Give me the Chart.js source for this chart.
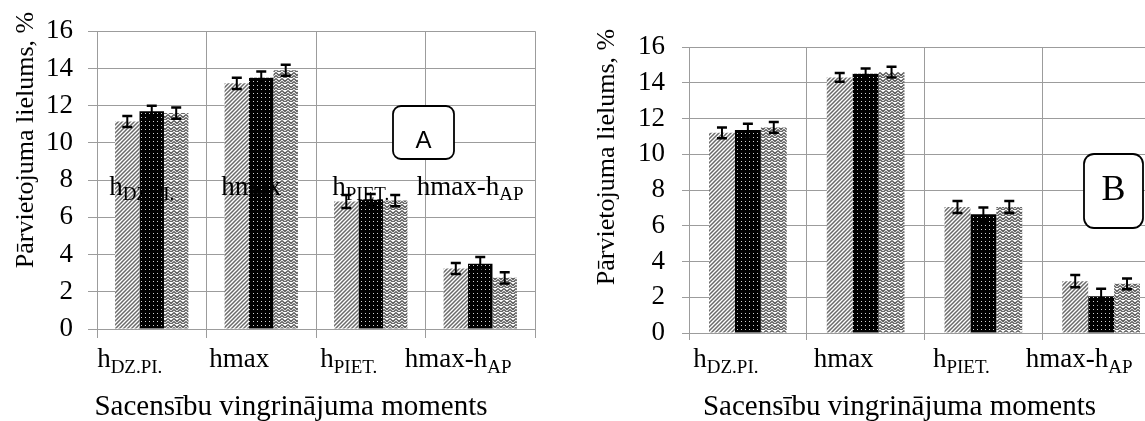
<!DOCTYPE html>
<html>
<head>
<meta charset="utf-8">
<script src="https://cdn.jsdelivr.net/npm/chart.js@4.4.1/dist/chart.umd.min.js"></script>
<style>
  html, body { margin: 0; padding: 0; background: #fff; overflow: hidden; width: 1145px; height: 421px; }
  #chartA { position: absolute; left: 0; top: 0; }
  #chartB { position: absolute; left: 580px; top: 0; }
</style>
</head>
<body>
<canvas id="chartA" width="550" height="421"></canvas>
<canvas id="chartB" width="600" height="421"></canvas>
<script>
// categories (main text + subscript part)
const categoryMain = ['h', 'hmax', 'h', 'hmax-h'];
const categorySub = ['DZ.PI.', '', 'PIET.', 'AP'];
const yTicks = [0, 2, 4, 6, 8, 10, 12, 14, 16];
const xTitle = 'Sacensību vingrinājuma moments';
const yTitle = 'Pārvietojuma lielums, %';

// panel A values
const aHatched = [11.15, 13.2, 6.85, 3.25];
const aDotted = [11.7, 13.5, 6.95, 3.5];
const aZigzag = [11.6, 13.9, 6.9, 2.75];
const aHatchedErr = [0.3, 0.3, 0.35, 0.3];
const aDottedErr = [0.3, 0.33, 0.3, 0.37];
const aZigzagErr = [0.3, 0.3, 0.3, 0.3];

// panel B values
const bHatched = [11.2, 14.3, 7.05, 2.9];
const bDotted = [11.35, 14.5, 6.65, 2.05];
const bZigzag = [11.5, 14.6, 7.05, 2.75];
const bHatchedErr = [0.3, 0.25, 0.33, 0.34];
const bDottedErr = [0.35, 0.3, 0.37, 0.43];
const bZigzagErr = [0.3, 0.3, 0.33, 0.3];

const gridColor = '#9c9c9c';
const serif = '"Liberation Serif", "Times New Roman", serif';

function makePattern(kind) {
  const c = document.createElement('canvas');
  const g = c.getContext('2d');
  if (kind === 'diag') {
    c.width = 4; c.height = 4;
    g.fillStyle = '#fff'; g.fillRect(0, 0, 4, 4);
    g.strokeStyle = '#6a6a6a'; g.lineWidth = 1.5;
    g.beginPath();
    g.moveTo(-1, 5); g.lineTo(5, -1);
    g.moveTo(-1, 1); g.lineTo(1, -1);
    g.moveTo(3, 5); g.lineTo(5, 3);
    g.stroke();
  } else if (kind === 'dots') {
    c.width = 4; c.height = 4;
    g.fillStyle = '#000'; g.fillRect(0, 0, 4, 4);
    g.fillStyle = '#d0d0d0'; g.fillRect(1, 1, 1, 1);
  } else {
    c.width = 6; c.height = 6;
    g.fillStyle = '#fff'; g.fillRect(0, 0, 6, 6);
    g.strokeStyle = '#5a5a5a'; g.lineWidth = 1.3;
    g.beginPath();
    g.moveTo(0, 0.5); g.lineTo(3, 3.5); g.lineTo(6, 0.5);
    g.moveTo(0, 3.5); g.lineTo(3, 6.5); g.lineTo(6, 3.5);
    g.stroke();
  }
  return g.createPattern(c, 'repeat');
}

const fills = [makePattern('diag'), makePattern('dots'), makePattern('zigzag')];

function drawSubLabel(ctx, cx, y, main, sub, mainSize, subSize, drop) {
  ctx.font = mainSize + 'px ' + serif;
  const w1 = ctx.measureText(main).width;
  ctx.font = subSize + 'px ' + serif;
  const w2 = sub ? ctx.measureText(sub).width : 0;
  const x = cx - (w1 + w2) / 2;
  ctx.textAlign = 'left';
  ctx.textBaseline = 'alphabetic';
  ctx.fillStyle = '#000';
  ctx.font = mainSize + 'px ' + serif;
  ctx.fillText(main, x, y);
  if (sub) {
    ctx.font = subSize + 'px ' + serif;
    ctx.fillText(sub, x + w1, y + drop);
  }
}

function roundBox(ctx, x, y, w, h, r) {
  ctx.beginPath();
  ctx.moveTo(x + r, y);
  ctx.arcTo(x + w, y, x + w, y + h, r);
  ctx.arcTo(x + w, y + h, x, y + h, r);
  ctx.arcTo(x, y + h, x, y, r);
  ctx.arcTo(x, y, x + w, y, r);
  ctx.closePath();
  ctx.fillStyle = '#fff';
  ctx.fill();
  ctx.lineWidth = 1.8;
  ctx.strokeStyle = '#000';
  ctx.stroke();
}

const panelPlugin = {
  id: 'panel',
  afterDatasetsDraw(chart, args, opts) {
    const ctx = chart.ctx;
    const x = chart.scales.x;
    const y = chart.scales.y;
    const area = chart.chartArea;
    ctx.save();

    // stray labels inside panel A
    if (opts.inner) {
      categoryMain.forEach((m, i) => {
        drawSubLabel(ctx, x.getPixelForValue(i) - 10, y.getPixelForValue(7.2), m, categorySub[i], 27, 19, 5);
      });
    }

    // error bars
    chart.data.datasets.forEach((ds, di) => {
      const meta = chart.getDatasetMeta(di);
      ctx.strokeStyle = '#000';
      meta.data.forEach((bar, i) => {
        const top = y.getPixelForValue(ds.data[i] + ds.err[i]);
        const bot = y.getPixelForValue(ds.data[i] - ds.err[i]);
        ctx.lineWidth = 2;
        ctx.beginPath();
        ctx.moveTo(bar.x, top); ctx.lineTo(bar.x, bot);
        ctx.stroke();
        ctx.lineWidth = 2.5;
        ctx.beginPath();
        ctx.moveTo(bar.x - 5, top); ctx.lineTo(bar.x + 5, top);
        ctx.moveTo(bar.x - 5, bot); ctx.lineTo(bar.x + 5, bot);
        ctx.stroke();
      });
    });

    // category labels with subscripts
    categoryMain.forEach((m, i) => {
      drawSubLabel(ctx, x.getPixelForValue(i) - 22, 367, m, categorySub[i], 27, 19, 6);
    });

    // axis titles
    ctx.fillStyle = '#000';
    ctx.textAlign = 'center';
    ctx.textBaseline = 'alphabetic';
    ctx.font = '29px ' + serif;
    ctx.fillText(xTitle, (area.left + area.right) / 2 - 25, 415);

    ctx.save();
    ctx.translate(opts.yTitleX, opts.yTitleY);
    ctx.rotate(-Math.PI / 2);
    ctx.textBaseline = 'middle';
    ctx.font = '26px ' + serif;
    ctx.fillText(yTitle, 0, 0);
    ctx.restore();

    // panel letter box
    const b = opts.box;
    roundBox(ctx, b[0], b[1], b[2], b[3], b[4]);
    ctx.fillStyle = '#000';
    ctx.textAlign = 'center';
    ctx.font = opts.letterFont;
    ctx.fillText(opts.letter, b[0] + b[2] / 2, opts.letterBase);
    ctx.restore();
  }
};

function makeChart(id, s1, s2, s3, e1, e2, e3, cfg) {
  return new Chart(document.getElementById(id), {
    type: 'bar',
    data: {
      labels: categoryMain.map((m, i) => m + categorySub[i]),
      datasets: [
        { data: s1, err: e1, backgroundColor: fills[0], borderWidth: 0 },
        { data: s2, err: e2, backgroundColor: fills[1], borderWidth: 0 },
        { data: s3, err: e3, backgroundColor: fills[2], borderWidth: 0 }
      ]
    },
    options: {
      responsive: false,
      animation: false,
      events: [],
      categoryPercentage: cfg.catPct,
      barPercentage: 1,
      layout: { padding: { top: cfg.top, right: cfg.right, left: 0, bottom: 0 } },
      plugins: { legend: { display: false }, tooltip: { enabled: false }, panel: cfg },
      scales: {
        x: {
          grid: { color: gridColor, tickLength: cfg.xTick, offset: true },
          border: { color: gridColor },
          ticks: { display: false },
          afterFit: s => { s.height = cfg.xHeight; }
        },
        y: {
          min: 0, max: 16,
          afterBuildTicks: s => { s.ticks = yTicks.map(v => ({ value: v })); },
          ticks: { padding: cfg.tickPad, color: '#000', font: { family: serif, size: 27 } },
          grid: { color: gridColor, tickLength: cfg.yTick },
          border: { color: gridColor },
          afterFit: s => { s.width = cfg.yWidth; }
        }
      }
    },
    plugins: [panelPlugin]
  });
}

makeChart('chartA', aHatched, aDotted, aZigzag, aHatchedErr, aDottedErr, aZigzagErr, {
  top: 25, right: 15, xHeight: 92, yWidth: 97, xTick: 9, yTick: 9, tickPad: 15, catPct: 0.67,
  inner: true, yTitleX: 26, yTitleY: 140,
  box: [393, 106, 61, 53, 8], letter: 'A', letterFont: '24px "Liberation Sans", Arial, sans-serif', letterBase: 148
});

makeChart('chartB', bHatched, bDotted, bZigzag, bHatchedErr, bDottedErr, bZigzagErr, {
  top: 47, right: 20, xHeight: 88, yWidth: 109, xTick: 7, yTick: 7, tickPad: 17, catPct: 0.66,
  inner: false, yTitleX: 27, yTitleY: 157,
  box: [504, 154, 59, 74, 10], letter: 'B', letterFont: '36px ' + serif, letterBase: 200
});
</script>
</body>
</html>
